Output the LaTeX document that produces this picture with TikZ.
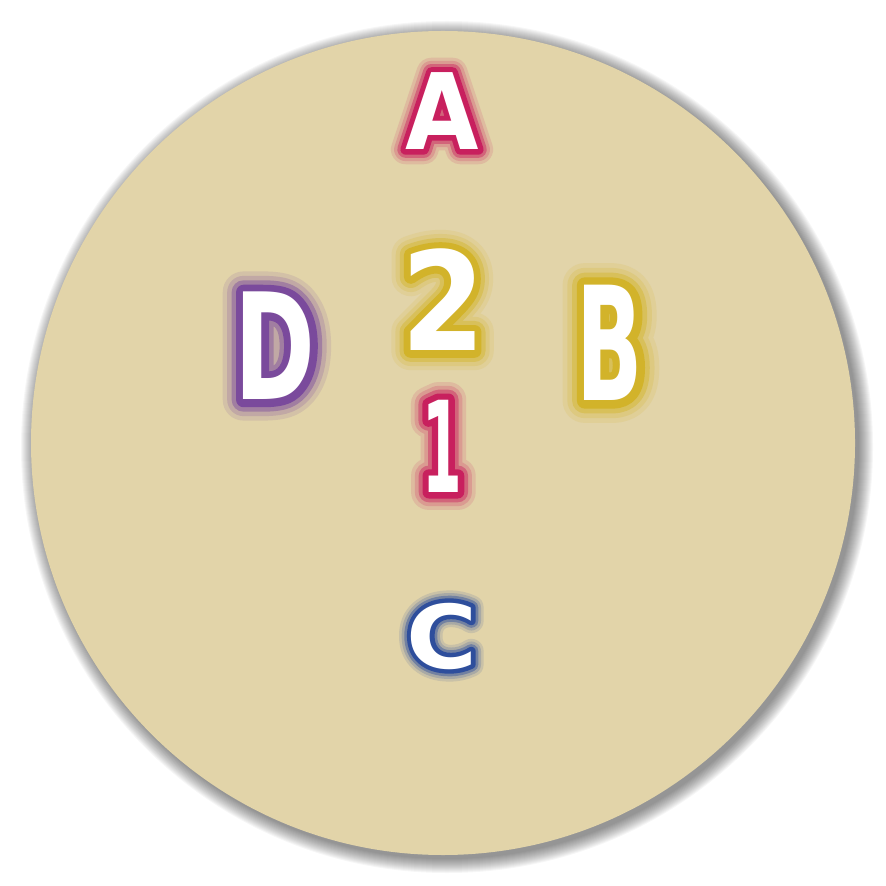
\documentclass[tikz,border=0pt]{standalone}
\usepackage{fontspec}
\setmainfont{DejaVu Sans}
\definecolor{disc}{HTML}{E2D4A9}
\definecolor{runered}{HTML}{C8205E}
\definecolor{runegold}{HTML}{D2B32A}
\definecolor{runeviolet}{HTML}{7A4A9C}
\definecolor{runeblue}{HTML}{2E4E9C}
% one layer of a letter: stretch, embolden, colour, text
\newcommand{\runelayer}[4]{{\fontspec[FakeStretch=#1,FakeBold=#2]{DejaVu Sans Bold}\color{#3}#4}}
% soft halo: pale outer layers, strong inner layer, white letter on top
\newcommand{\halo}[3]{%
  \rlap{\runelayer{#1}{28}{#2!14!disc}{#3}}%
  \rlap{\runelayer{#1}{22}{#2!32!disc}{#3}}%
  \rlap{\runelayer{#1}{16}{#2!62!disc}{#3}}%
  \rlap{\runelayer{#1}{10}{#2}{#3}}%
  \runelayer{#1}{0}{white}{#3}}
\tikzset{rune/.style={inner sep=0pt, line join=round, font=\fontsize{#1}{#1}\selectfont}}
\begin{document}
\begin{tikzpicture}[x=0.01cm, y=-0.01cm, line join=round]
    \useasboundingbox (0,0) rectangle (886,886);

    %blurred shadow under the disc
    \foreach \r in {0,...,14} {
        \fill[black, opacity=0.035] (447,447) circle (412+\r);
    }
    \fill[disc] (443,443) circle (412);

    %letters
    \node[rune=30] (a) at (442,111) {\halo{0.9}{runered}{A}};
    \node[rune=39] (two) at (443,300) {\halo{0.88}{runegold}{2}};
    \node[rune=45] (b) at (610,343) {\halo{0.55}{runegold}{B}};
    \node[rune=42] (d) at (275,346) {\halo{0.66}{runeviolet}{D}};
    \node[rune=36] (one) at (442,446) {\halo{0.45}{runered}{1}};
    \node[rune=25] (c) at (442,636) {\halo{1.1}{runeblue}{C}};
\end{tikzpicture}
\end{document}
